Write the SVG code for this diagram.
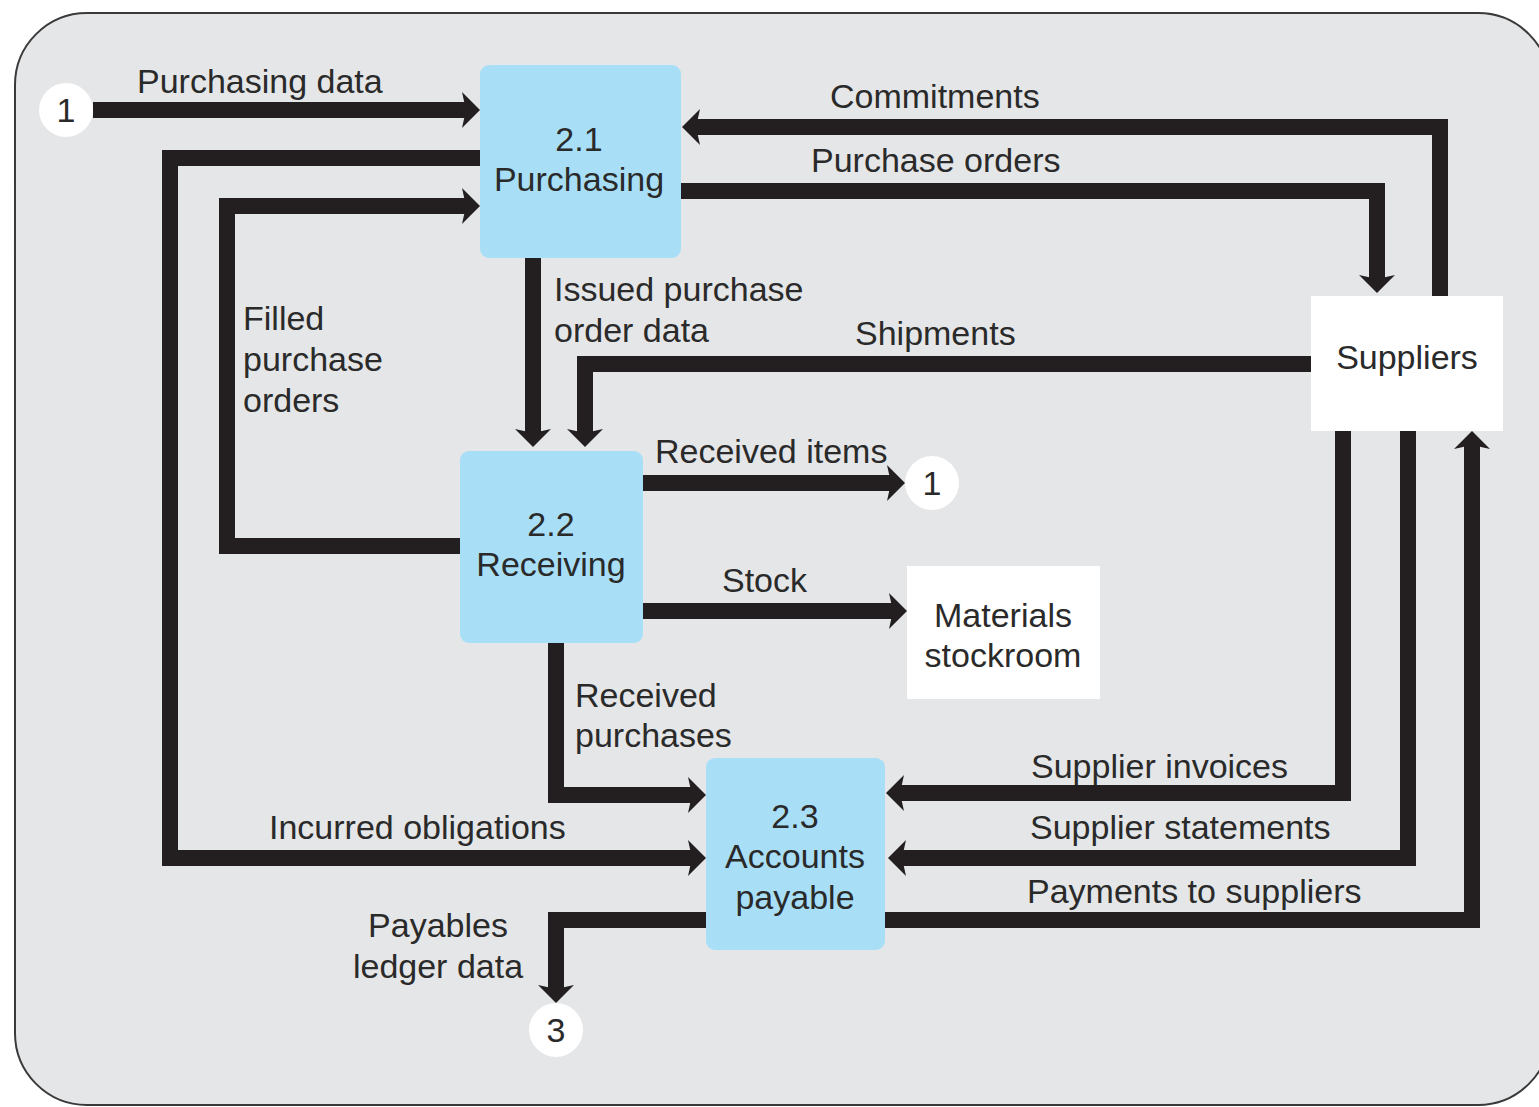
<svg xmlns="http://www.w3.org/2000/svg" width="1539" height="1107" viewBox="0 0 1539 1107">
  <style>
    text { font-family: "Liberation Sans", Arial, Helvetica, sans-serif; font-size: 34px; fill: #2a2a2a; }
    .mid { text-anchor: middle; }
    .process { fill: #a8dff7; }
    .entity { fill: #ffffff; }
    .conn { fill: #ffffff; }
    .flow { fill: none; stroke: #231f20; stroke-width: 16; stroke-linejoin: miter; stroke-linecap: butt; }
  </style>
  <defs>
    <marker id="head" markerUnits="userSpaceOnUse" viewBox="-20 -20 40 40" markerWidth="40" markerHeight="40" refX="0" refY="0" orient="auto">
      <path d="M14,0 L-4,-18 L0,0 L-4,18 Z" fill="#231f20"/>
    </marker>
  </defs>

  <!-- page frame -->
  <rect x="15" y="13" width="1535" height="1092" rx="72" ry="72" fill="#e5e6e8" stroke="#3a3a3a" stroke-width="2"/>

  <!-- data flows -->
  <g id="connectors">
    <path class="flow" d="M93,110 H466" marker-end="url(#head)"/>
    <path class="flow" d="M480,158 H170 V858 H692" marker-end="url(#head)"/>
    <path class="flow" d="M460,546 H227 V206 H466" marker-end="url(#head)"/>
    <path class="flow" d="M1440,296 V127 H696" marker-end="url(#head)"/>
    <path class="flow" d="M681,191 H1377 V279" marker-end="url(#head)"/>
    <path class="flow" d="M533,258 V433" marker-end="url(#head)"/>
    <path class="flow" d="M1311,364 H585 V433" marker-end="url(#head)"/>
    <path class="flow" d="M643,483 H891" marker-end="url(#head)"/>
    <path class="flow" d="M643,611 H893" marker-end="url(#head)"/>
    <path class="flow" d="M556,643 V795 H692" marker-end="url(#head)"/>
    <path class="flow" d="M706,920 H556 V989" marker-end="url(#head)"/>
    <path class="flow" d="M1343,431 V793 H900" marker-end="url(#head)"/>
    <path class="flow" d="M1408,431 V858 H902" marker-end="url(#head)"/>
    <path class="flow" d="M885,920 H1472 V445" marker-end="url(#head)"/>

    <text x="137" y="93">Purchasing data</text>
    <text x="830" y="108">Commitments</text>
    <text x="811" y="172">Purchase orders</text>
    <text x="554" y="301">Issued purchase</text>
    <text x="554" y="342">order data</text>
    <text x="855" y="345">Shipments</text>
    <text x="243" y="330">Filled</text>
    <text x="243" y="371">purchase</text>
    <text x="243" y="412">orders</text>
    <text x="655" y="463">Received items</text>
    <text x="722" y="592">Stock</text>
    <text x="575" y="707">Received</text>
    <text x="575" y="747">purchases</text>
    <text x="269" y="839">Incurred obligations</text>
    <text class="mid" x="438" y="937">Payables</text>
    <text class="mid" x="438" y="978">ledger data</text>
    <text x="1031" y="778">Supplier invoices</text>
    <text x="1030" y="839">Supplier statements</text>
    <text x="1027" y="903">Payments to suppliers</text>
  </g>

  <!-- processes -->
  <g id="p2-1">
    <rect class="process" x="480" y="65" width="201" height="193" rx="9"/>
    <text class="mid" x="579" y="151">2.1</text>
    <text class="mid" x="579" y="191">Purchasing</text>
  </g>
  <g id="p2-2">
    <rect class="process" x="460" y="451" width="183" height="192" rx="9"/>
    <text class="mid" x="551" y="536">2.2</text>
    <text class="mid" x="551" y="576">Receiving</text>
  </g>
  <g id="p2-3">
    <rect class="process" x="706" y="758" width="179" height="192" rx="9"/>
    <text class="mid" x="795" y="828">2.3</text>
    <text class="mid" x="795" y="868">Accounts</text>
    <text class="mid" x="795" y="909">payable</text>
  </g>

  <!-- external entities -->
  <g id="suppliers">
    <rect class="entity" x="1311" y="296" width="192" height="135"/>
    <text class="mid" x="1407" y="369">Suppliers</text>
  </g>
  <g id="stockroom">
    <rect class="entity" x="907" y="566" width="193" height="133"/>
    <text class="mid" x="1003" y="627">Materials</text>
    <text class="mid" x="1003" y="667">stockroom</text>
  </g>

  <!-- off-page connectors -->
  <g id="conn-1-in">
    <circle class="conn" cx="66" cy="110" r="27"/>
    <text class="mid" x="66" y="122">1</text>
  </g>
  <g id="conn-1-out">
    <circle class="conn" cx="932" cy="483" r="27"/>
    <text class="mid" x="932" y="495">1</text>
  </g>
  <g id="conn-3">
    <circle class="conn" cx="556" cy="1030" r="27"/>
    <text class="mid" x="556" y="1042">3</text>
  </g>
</svg>
